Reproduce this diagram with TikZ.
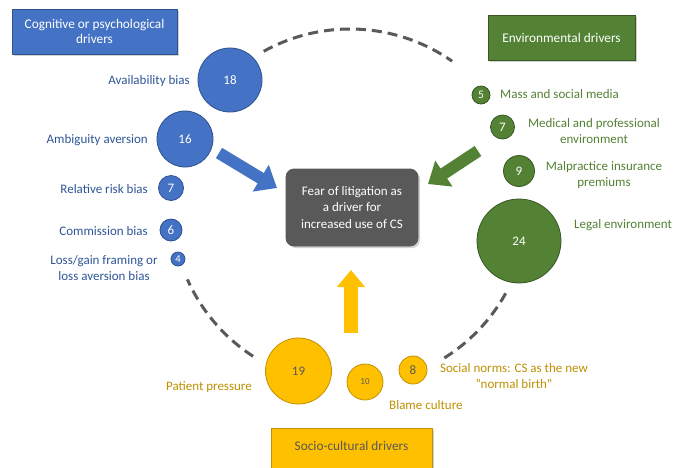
\documentclass[tikz,border=0pt]{standalone}
\usepackage{fontspec}
\setmainfont{Carlito}
\usetikzlibrary{shadows,arrows.meta}
\definecolor{cblue}{HTML}{4472C4}
\definecolor{cbluedk}{HTML}{2F528F}
\definecolor{clblue}{HTML}{2F5597}
\definecolor{cgreen}{HTML}{548235}
\definecolor{cgreendk}{HTML}{385723}
\definecolor{cyel}{HTML}{FFC000}
\definecolor{cyeldk}{HTML}{BF9000}
\definecolor{cgray}{HTML}{595959}
\tikzset{
  fnt/.style={font=\fontsize{13}{16.5}\selectfont},
  bub/.style={circle, inner sep=0pt, line width=0.8pt, fnt},
  bbub/.style={bub, fill=cblue, draw=cbluedk, text=white},
  gbub/.style={bub, fill=cgreen, draw=cgreendk, text=white},
  ybub/.style={bub, fill=cyel, draw=cyeldk, text=cgray},
  lab/.style={fnt, inner sep=0pt, align=center},
  blab/.style={lab, text=clblue},
  glab/.style={lab, text=cgreen},
  ylab/.style={lab, text=cyeldk},
  boxfont/.style={font=\fontsize{13.3}{15.5}\selectfont},
  catbox/.style={rectangle, inner sep=0pt, line width=0.8pt, align=center, boxfont,
    drop shadow={opacity=0.35, shadow xshift=2pt, shadow yshift=-2pt}},
  dashring/.style={draw=cgray, line width=3pt, dash pattern=on 10pt off 6pt},
  bigarrow/.style={line width=12pt, -{Triangle[width=30pt,length=19pt]}}
}
\begin{document}
\begin{tikzpicture}[x=1pt,y=-1pt]
\useasboundingbox (0,0) rectangle (675,467);
\fill[white] (0,0) rectangle (675,467);

% dashed ring
\draw[dashring] ([shift={(241:178)}]350,207) arc[start angle=241, end angle=305, radius=178];
\draw[dashring] ([shift={(123:178)}]350,207) arc[start angle=123, end angle=156, radius=178];
\draw[dashring] ([shift={(29:178)}]350,207) arc[start angle=29, end angle=58, radius=178];

% category boxes
\node[catbox, fill=cblue, draw=cbluedk, text=white, minimum width=165pt, minimum height=45pt]
  (cog) at (94.5,31.5) {Cognitive or psychological\\drivers};
\node[catbox, fill=cgreen, draw=cgreendk, text=white, minimum width=147pt, minimum height=45pt]
  (env) at (561.5,37.5) {Environmental drivers};
\node[catbox, fill=cyel, draw=cyeldk, text=cgray, minimum width=161pt, minimum height=52pt]
  (soc) at (351.5,454) {};
\node[boxfont, text=cgray, inner sep=0pt] (soctxt) at (351.5,446) {Socio-cultural drivers};

% central box
\node[catbox, fill=cgray, draw=cgray, text=white, rounded corners=8pt,
  minimum width=132pt, minimum height=77pt, font=\fontsize{13}{16.5}\selectfont]
  (fear) at (352,207.5) {Fear of litigation as\\a driver for\\increased use of CS};

% blue bubbles
\node[bbub, minimum size=64pt] (b18) at (230,80) {18};
\node[bbub, minimum size=56pt] (b16) at (185,139) {16};
\node[bbub, minimum size=25pt] (b7) at (171,188) {7};
\node[bbub, minimum size=22pt] (b6) at (171,230) {6};
\node[bbub, minimum size=14pt, font=\fontsize{10.5}{11}\selectfont] (b4) at (178,259) {4};
\node[blab, anchor=east] (l18) at (190,81) {Availability bias};
\node[blab, anchor=east] (l16) at (148,140) {Ambiguity aversion};
\node[blab, anchor=east] (l7) at (148,189) {Relative risk bias};
\node[blab, anchor=east] (l6) at (148,231) {Commission bias};
\node[blab] (l4) at (104,268) {Loss/gain framing or\\loss aversion bias};

% green bubbles
\node[gbub, minimum size=18pt, font=\fontsize{11.5}{12}\selectfont] (g5) at (481,95) {5};
\node[gbub, minimum size=24pt] (g7) at (502.5,127) {7};
\node[gbub, minimum size=31pt] (g9) at (519,171) {9};
\node[gbub, minimum size=84pt] (g24) at (519,241) {24};
\node[glab, anchor=west] (m5) at (500,94) {Mass and social media};
\node[glab] (m7) at (594,131) {Medical and professional\\environment};
\node[glab] (m9) at (604,175) {Malpractice insurance\\premiums};
\node[glab, anchor=west] (m24) at (574,225) {Legal environment};

% yellow bubbles
\node[ybub, minimum size=66pt] (y19) at (298.5,371) {19};
\node[ybub, minimum size=36pt, font=\fontsize{9}{10}\selectfont] (y10) at (365,382) {10};
\node[ybub, minimum size=28pt] (y8) at (413,370) {8};
\node[ylab, anchor=east] (s19) at (252,387) {Patient pressure};
\node[ylab, anchor=west] (s10) at (389,405) {Blame culture};
\node[ylab] (s8) at (514,376) {Social norms: CS as the new\\"normal birth"};

% arrows
\coordinate (bt) at (219,153);
\coordinate (bh) at (277,188);
\coordinate (gt) at (478,151);
\coordinate (gh) at (428,184);
\coordinate (yt) at (351,333);
\coordinate (yh) at (351,270);
\draw[bigarrow, cblue] (bt) -- (bh);
\draw[bigarrow, cgreen] (gt) -- (gh);
\draw[cyel, line width=14pt, -{Triangle[width=27pt,length=17pt]}] (yt) -- (yh);
\end{tikzpicture}
\end{document}
